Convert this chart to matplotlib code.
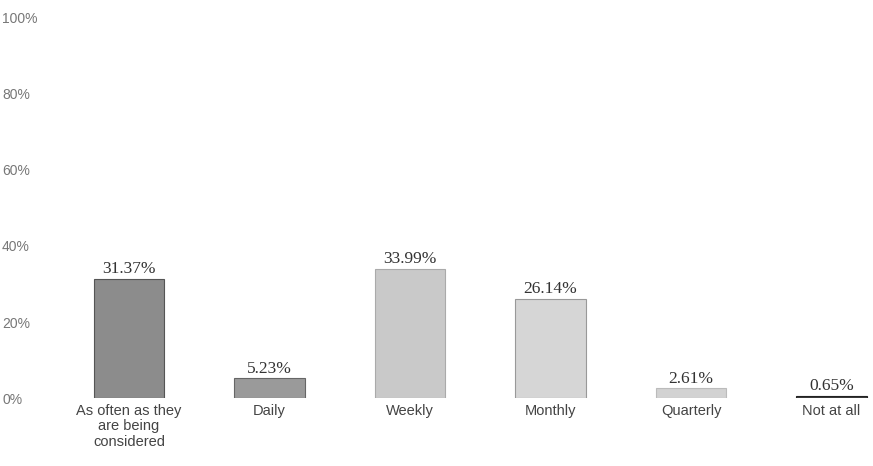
import matplotlib
matplotlib.use("Agg")
import matplotlib.pyplot as plt

# Survey responses: how often items are reviewed
categories = ["As often as they\nare being\nconsidered", "Daily", "Weekly",
              "Monthly", "Quarterly", "Not at all"]
values = [31.37, 5.23, 33.99, 26.14, 2.61, 0.65]
value_labels = ["31.37%", "5.23%", "33.99%", "26.14%", "2.61%", "0.65%"]
bar_colors = ["#8c8c8c", "#9a9a9a", "#c9c9c9", "#d6d6d6", "#d2d2d2", "#3c3c3c"]
edge_colors = ["#555555", "#666666", "#aaaaaa", "#999999", "#bbbbbb", "#222222"]
y_ticks = [0, 20, 40, 60, 80, 100]
y_tick_labels = ["0%", "20%", "40%", "60%", "80%", "100%"]

W, H = 873, 466
fig = plt.figure(figsize=(W / 100, H / 100), dpi=100)
left_px, right_px, bottom_px, top_px = 59, 873, 398, 18
ax = fig.add_axes([left_px / W, (H - bottom_px) / H,
                   (right_px - left_px) / W, (bottom_px - top_px) / H])

x = list(range(len(categories)))
ax.bar(x, values, width=0.5, color=bar_colors, edgecolor=edge_colors,
       linewidth=0.8)

for xi, v, lab in zip(x, values, value_labels):
    ax.annotate(lab, (xi, v), xytext=(0, 1.0), textcoords="offset points",
                ha="center", va="bottom", fontsize=12.5,
                family="Liberation Serif", color="#333333")

ax.set_xlim(-0.498, 5.295)
ax.set_ylim(0, 100)
ax.set_xticks(x)
ax.set_xticklabels(categories, family="Liberation Sans", fontsize=10.5,
                   color="#444444", va="top", linespacing=1.15)
ax.tick_params(axis="x", length=0, pad=4)
ax.set_yticks(y_ticks)
ax.set_yticklabels(y_tick_labels, family="Liberation Sans", fontsize=10,
                   color="#777777", ha="left")
ax.tick_params(axis="y", length=0, pad=41)
for s in ax.spines.values():
    s.set_visible(False)

fig.savefig("out.png", dpi=100, facecolor="white")
